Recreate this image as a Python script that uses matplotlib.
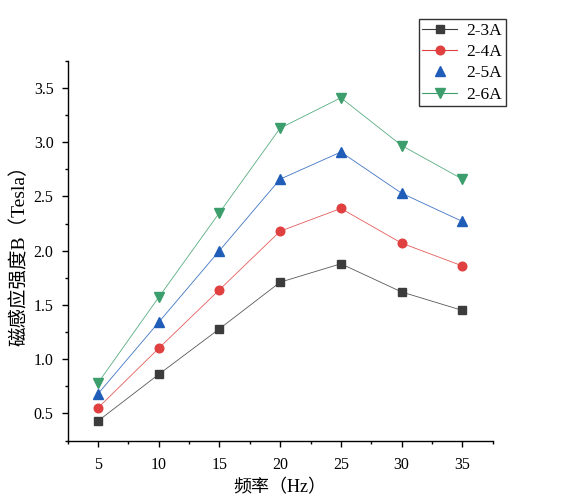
import matplotlib
matplotlib.use("Agg")
import matplotlib.pyplot as plt
from matplotlib.lines import Line2D
from matplotlib.ticker import MultipleLocator, FormatStrFormatter

plt.rcParams['font.family'] = ['Liberation Serif', 'Noto Sans CJK SC', 'DejaVu Sans']

freq = [5, 10, 15, 20, 25, 30, 35]
b_3a = [0.43, 0.86, 1.28, 1.71, 1.88, 1.62, 1.45]
b_4a = [0.55, 1.10, 1.64, 2.18, 2.39, 2.07, 1.86]
b_5a = [0.68, 1.34, 2.00, 2.66, 2.91, 2.53, 2.27]
b_6a = [0.78, 1.57, 2.35, 3.13, 3.41, 2.97, 2.66]

names = ['2-3A', '2-4A', '2-5A', '2-6A']
colors = ['#3c3c3c', '#e0403f', '#1f5db8', '#3c9e6c']
markers = ['s', 'o', '^', 'v']
msizes = [5.5, 6.2, 6.5, 6.5]
series = [b_3a, b_4a, b_5a, b_6a]

fig = plt.figure(figsize=(5.77, 4.99), dpi=100)
ax = fig.add_axes([0.117, 0.117, 0.737, 0.761])

handles = []
for vals, name, c, m, ms in zip(series, names, colors, markers, msizes):
    ax.plot(freq, vals, color=c, lw=0.6, alpha=0.85, zorder=2)
    ax.plot(freq, vals, ls='none', marker=m, color=c, markersize=ms, zorder=3)
    # the 2-5A entry in the reference legend shows no line
    if name == '2-5A':
        h = Line2D([], [], ls='none', marker=m, color=c, markersize=ms)
    else:
        h = Line2D([], [], lw=0.8, marker=m, color=c, markersize=ms)
    handles.append(h)

ax.set_xlim(2.5, 37.5)
ax.set_ylim(0.25, 3.75)
ax.xaxis.set_minor_locator(MultipleLocator(2.5))
ax.yaxis.set_minor_locator(MultipleLocator(0.25))
ax.yaxis.set_major_formatter(FormatStrFormatter('%.1f'))
ax.set_xticks([5, 10, 15, 20, 25, 30, 35])
ax.set_yticks([0.5, 1.0, 1.5, 2.0, 2.5, 3.0, 3.5])

for s in ['top', 'right']:
    ax.spines[s].set_visible(False)
for s in ['left', 'bottom']:
    ax.spines[s].set_linewidth(1.0)

ax.tick_params(which='major', direction='out', length=4, width=1, labelsize=11.5, colors='black')
ax.tick_params(which='minor', direction='out', length=2.5, width=1)
ax.tick_params(axis='x', pad=8)
ax.tick_params(axis='y', pad=6)

ax.set_xlabel('频率（Hz）', fontsize=13, labelpad=4)
ax.set_ylabel('磁感应强度B（Tesla）', fontsize=14, labelpad=4)

leg = fig.legend(handles, names, loc='upper left', bbox_to_anchor=(0.726, 0.962),
                 borderaxespad=0, fontsize=12.5, frameon=True, fancybox=False,
                 edgecolor='black', handlelength=2.0, labelspacing=0.3,
                 borderpad=0.2, handletextpad=0.55)
leg.get_frame().set_linewidth(1.0)

fig.savefig('out.png', dpi=100)
